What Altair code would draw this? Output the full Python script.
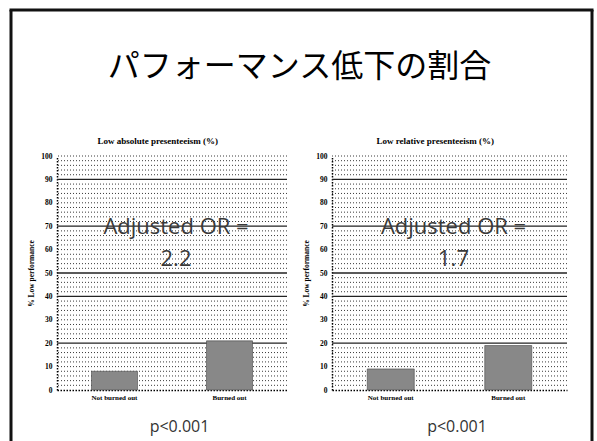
import altair as alt
import pandas as pd

# --- chart content -------------------------------------------------------
slide_title = "パフォーマンス低下の割合"
categories = ["Not burned out", "Burned out"]
absolute_low = [8, 21]          # % low performance, absolute presenteeism
relative_low = [9, 19]          # % low performance, relative presenteeism
panel_titles = ["Low absolute presenteeism (%)", "Low relative presenteeism (%)"]
adjusted_or = ["2.2", "1.7"]
p_values = ["p<0.001", "p<0.001"]
y_title = "% Low performance"
y_ticks = list(range(0, 101, 10))
solid_grid = [20, 40, 50, 70, 90]
dotted_grid = [v for v in range(2, 101, 2) if v not in solid_grid]

# --- layout / style ------------------------------------------------------
FRAME_W = 581
FRAME_H = 431
HEAD_H = 140
PLOT_H = 234
SERIF = "Liberation Serif"
SANS = "Open Sans"
CJK = "Noto Sans CJK JP"
NO_VIEW = alt.ViewBackground(stroke=None, strokeWidth=0)

y_scale = alt.Scale(domain=[0, 100], nice=False, zero=True)
y_axis = alt.Axis(
    values=y_ticks,
    title=y_title,
    labelFont=SERIF,
    labelFontSize=7.5,
    labelFontWeight="bold",
    labelColor="black",
    labelPadding=5,
    ticks=False,
    grid=False,
    domainColor="black",
    domainDash=[1.5, 1.5],
    domainWidth=1.5,
    titleFont=SERIF,
    titleFontSize=7.5,
    titleFontWeight="bold",
    titleColor="black",
    titlePadding=5,
)


def panel(values, title, odds, pval, plot_w):
    bars_df = pd.DataFrame({"group": categories, "pct": values})
    y_enc = alt.Y("pct:Q", scale=y_scale, axis=y_axis)

    dotted = (
        alt.Chart(pd.DataFrame({"pct": dotted_grid}))
        .mark_rule(color="#3a3a3a", strokeDash=[1, 2], strokeWidth=1)
        .encode(y=y_enc)
    )
    solid = (
        alt.Chart(pd.DataFrame({"pct": solid_grid}))
        .mark_rule(color="#222222", strokeWidth=1.3)
        .encode(y=y_enc)
    )
    bars = (
        alt.Chart(bars_df)
        .mark_bar(color="#888888", stroke="#474747", strokeWidth=0.6)
        .encode(
            x=alt.X(
                "group:N",
                sort=categories,
                scale=alt.Scale(paddingInner=0.6, paddingOuter=0.3),
                axis=alt.Axis(
                    title=pval,
                    labelAngle=0,
                    labelFont=SERIF,
                    labelFontSize=7,
                    labelFontWeight="bold",
                    labelColor="black",
                    labelPadding=3,
                    ticks=False,
                    domainColor="black",
                    domainDash=[1.5, 1.5],
                    domainWidth=1.5,
                    titleFont=SANS,
                    titleFontSize=16,
                    titleFontWeight="normal",
                    titleColor="#333333",
                    titleX=plot_w / 2 + 7,
                    titleY=41,
                    titleBaseline="alphabetic",
                ),
            ),
            y=y_enc,
        )
    )
    note = (
        alt.Chart(pd.DataFrame({"label": [f"Adjusted OR =\n{odds}"]}))
        .mark_text(
            font=SANS,
            fontSize=22,
            color="#3a3a3a",
            align="center",
            baseline="alphabetic",
            lineBreak="\n",
            lineHeight=32,
        )
        .encode(x=alt.value(plot_w / 2 + 4), y=alt.value(78), text="label:N")
    )
    return alt.layer(dotted, solid, bars, note).properties(
        width=plot_w,
        height=PLOT_H,
        view=NO_VIEW,
        title=alt.TitleParams(
            title,
            font=SERIF,
            fontSize=9,
            fontWeight="bold",
            color="black",
            offset=6,
            frame="bounds",
        ),
    )


left = panel(absolute_low, panel_titles[0], adjusted_or[0], p_values[0], 230)
right = panel(relative_low, panel_titles[1], adjusted_or[1], p_values[1], 235)

# heading with the slide frame drawn around the page
one = alt.Data(values=[{"t": slide_title}])
heading = alt.Chart(one).mark_text(
    font=CJK, fontSize=32, color="black", align="center", baseline="alphabetic"
).encode(x=alt.value(FRAME_W / 2 - 2), y=alt.value(67), text="t:N")
top_edge = alt.Chart(one).mark_rule(color="#111111", strokeWidth=3, strokeCap="square").encode(
    x=alt.value(0), x2=alt.value(FRAME_W), y=alt.value(0)
)
left_edge = alt.Chart(one).mark_rule(color="#111111", strokeWidth=3).encode(
    x=alt.value(0), y=alt.value(0), y2=alt.value(FRAME_H)
)
right_edge = alt.Chart(one).mark_rule(color="#111111", strokeWidth=3).encode(
    x=alt.value(FRAME_W), y=alt.value(0), y2=alt.value(FRAME_H)
)
head = alt.layer(heading, top_edge, left_edge, right_edge).properties(
    width=FRAME_W, height=HEAD_H, view=NO_VIEW
)

# blank cell that pushes the two panels in from the frame
gap = alt.Chart(one).mark_text(text="").encode(x=alt.value(0), y=alt.value(0)).properties(
    width=2, height=PLOT_H, view=NO_VIEW
)

chart = (
    alt.vconcat(head, alt.hconcat(gap, left, right, spacing=14), spacing=6, bounds="flush")
    .properties(padding={"left": 8, "top": 7, "right": 0, "bottom": 0})
    .configure_view(stroke=None, strokeWidth=0)
    .configure(background="white")
)

chart.save("out.html", embed_options={"renderer": "svg", "actions": False})
